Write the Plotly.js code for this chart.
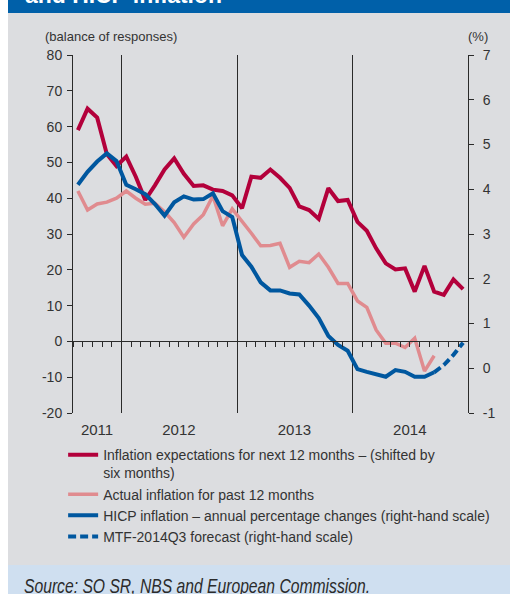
<!DOCTYPE html>
<html>
<head>
<meta charset="utf-8">
<script src="https://cdn.plot.ly/plotly-3.0.1.min.js"></script>
<style>
html,body{margin:0;padding:0;background:#ffffff;}
#wrap{position:relative;width:510px;height:594px;overflow:hidden;}
#chart{position:absolute;left:0;top:0;width:510px;height:594px;}
#ov{position:absolute;left:0;top:0;pointer-events:none;}
</style>
</head>
<body>
<div id="wrap">
<div id="chart"></div>
<svg id="ov" width="510" height="594">
  <rect x="0" y="0" width="8" height="594" fill="#ffffff"/>
  <rect x="8" y="0" width="502" height="13" fill="#0060a9"/>
  <text x="25" y="3" font-family="Liberation Sans, Arial, sans-serif" font-weight="bold" font-size="23" fill="#ffffff" textLength="197" lengthAdjust="spacingAndGlyphs">and HICP inflation</text>
  <rect x="8" y="565" width="502" height="29" fill="#cfdff0"/>
  <text x="24" y="593" font-family="Liberation Sans Narrow, Liberation Sans, sans-serif" font-style="italic" font-size="21" fill="#2b2b2b" textLength="346" lengthAdjust="spacingAndGlyphs">Source: SO SR, NBS and European Commission.</text>
</svg>
</div>
<script>
// Months (Aug 2011 – Dec 2014)
const months = [
  '2011-08','2011-09','2011-10','2011-11','2011-12',
  '2012-01','2012-02','2012-03','2012-04','2012-05','2012-06','2012-07','2012-08','2012-09','2012-10','2012-11','2012-12',
  '2013-01','2013-02','2013-03','2013-04','2013-05','2013-06','2013-07','2013-08','2013-09','2013-10','2013-11','2013-12',
  '2014-01','2014-02','2014-03','2014-04','2014-05','2014-06','2014-07','2014-08','2014-09','2014-10','2014-11','2014-12'
];
// Inflation expectations for next 12 months (shifted by six months), balance of responses
const expectations = [
  59, 65, 62.5, 52.3, 49, 51.6, 46, 39.5, 43.6, 48, 51.1, 46.8,
  43.4, 43.6, 42.4, 42, 40.8, 37.2, 46, 45.7, 48, 45.7, 42.9, 37.7,
  36.7, 34.2, 42.8, 39.2, 39.5, 33.4, 30.9, 26, 21.8, 20.1, 20.4, 13.9,
  21.1, 13.9, 13, 17.3, 14.6
];
// Actual inflation for past 12 months, balance of responses
const actual = [
  42, 36.7, 38.4, 38.9, 40, 42, 40, 38.3, 38.6, 36.2, 33.2, 29.1,
  32.8, 35.4, 40.6, 32.3, 37, 33.6, 30.2, 26.7, 26.8, 27.4, 20.7, 22.4,
  22, 24.4, 20.7, 16.2, 16.2, 11.3, 9.5, 3.2, -0.5, -0.5, -1.7, 0.9,
  -8.3, -4
];
// HICP inflation, annual % change (right-hand scale)
const hicp = [
  4.1, 4.39, 4.62, 4.8, 4.63, 4.1, 4.0, 3.89, 3.67, 3.41, 3.71, 3.84,
  3.77, 3.78, 3.91, 3.51, 3.38, 2.53, 2.27, 1.92, 1.74, 1.74, 1.67, 1.65,
  1.4, 1.12, 0.72, 0.52, 0.39, -0.02, -0.08, -0.13, -0.19, -0.04, -0.08, -0.19,
  -0.19, -0.09
];
// MTF-2014Q3 forecast (right-hand scale)
const forecastMonths = ['2014-09','2014-10','2014-11','2014-12'];
const forecast = [-0.09, 0.07, 0.3, 0.57];

const yearTickVals = ['2011-10-16','2012-07-01','2013-07-01','2014-07-01'];
const yearTickText = ['2011','2012','2013','2014'];
const yearBounds = ['2012-01-01','2013-01-01','2014-01-01'];
const leftTickVals = [-20,-10,0,10,20,30,40,50,60,70,80];
const leftTickText = ['-20','-10','0','10','20','30','40','50','60','70','80'];
const rightTickVals = [-1,0,1,2,3,4,5,6,7];
const rightTickText = ['-1','0','1','2','3','4','5','6','7'];

const NARROW = 'Liberation Sans Narrow, Liberation Sans, Arial, sans-serif';
const REG = 'Liberation Sans, Arial, sans-serif';
const TXT = '#333333';
const AX = '#2a2a2a';

const common = {type:'scatter', mode:'lines', xperiod:'M1', xperiodalignment:'middle', hoverinfo:'skip'};

const traces = [
  Object.assign({}, common, {
    x: months.slice(0, expectations.length), y: expectations,
    name: 'Inflation expectations for next 12 months – (shifted by<br>six months)',
    line: {color:'#b3003b', width:4}
  }),
  Object.assign({}, common, {
    x: months.slice(0, actual.length), y: actual,
    name: 'Actual inflation for past 12 months',
    line: {color:'#e08b8f', width:3.5}
  }),
  Object.assign({}, common, {
    x: months.slice(0, hicp.length), y: hicp, yaxis:'y2',
    name: 'HICP inflation – annual percentage changes (right-hand scale)',
    line: {color:'#00579f', width:4}
  }),
  Object.assign({}, common, {
    x: forecastMonths, y: forecast, yaxis:'y2',
    name: 'MTF-2014Q3 forecast (right-hand scale)',
    line: {color:'#00579f', width:4, dash:'8px,4px'}
  }),
  {type:'scatter', x:[], y:[], xaxis:'x2', yaxis:'y', showlegend:false, hoverinfo:'skip'}
];

const xr = ['2011-08-01','2015-01-01'];

const layout = {
  width:510, height:594,
  margin:{l:73, r:42, t:55, b:181},
  paper_bgcolor:'#dcdde0', plot_bgcolor:'rgba(0,0,0,0)',
  showlegend:true,
  font:{family:NARROW, size:14, color:TXT},
  xaxis:{
    type:'date', range:xr, showline:false, zeroline:false, showgrid:false,
    ticks:'', tickmode:'array', tickvals:yearTickVals, ticktext:yearTickText,
    tickfont:{family:NARROW, size:15, color:TXT}, ticklabelstandoff:6,
    minor:{tickmode:'array', tickvals:yearBounds, showgrid:true, gridcolor:AX, gridwidth:1, ticks:''}
  },
  xaxis2:{
    type:'date', range:xr, overlaying:'x', anchor:'free', position:0.2,
    showline:true, linecolor:AX, linewidth:1, zeroline:false, showgrid:false,
    ticks:'outside', ticklen:5, tickcolor:AX, tickwidth:1,
    tick0:'2011-08-01', dtick:'M1', showticklabels:false
  },
  yaxis:{
    range:[-20,80], tickmode:'array', tickvals:leftTickVals, ticktext:leftTickText,
    showline:true, linecolor:AX, linewidth:1,
    ticks:'outside', ticklen:5, tickcolor:AX, showgrid:false, zeroline:false,
    tickfont:{family:REG, size:14, color:TXT}, ticklabelstandoff:2
  },
  yaxis2:{
    range:[-1,7], tickmode:'array', tickvals:rightTickVals, ticktext:rightTickText,
    overlaying:'y', side:'right', anchor:'x',
    showline:true, linecolor:AX, linewidth:1,
    ticks:'outside', ticklen:5, tickcolor:AX, showgrid:false, zeroline:false,
    tickfont:{family:REG, size:14, color:TXT}, ticklabelstandoff:6
  },
  legend:{
    x:-0.025, xanchor:'left', y:-0.073, yanchor:'top', valign:'top',
    bgcolor:'rgba(0,0,0,0)', font:{family:NARROW, size:14, color:TXT},
    tracegroupgap:0
  },
  annotations:[
    {xref:'paper', yref:'paper', x:-0.076, y:1.053, xanchor:'left', yanchor:'middle',
     text:'(balance of responses)', showarrow:false, font:{family:NARROW, size:13, color:TXT}},
    {xref:'paper', yref:'paper', x:1.056, y:1.053, xanchor:'right', yanchor:'middle',
     text:'(%)', showarrow:false, font:{family:NARROW, size:13, color:TXT}}
  ]
};

Plotly.newPlot('chart', traces, layout, {displayModeBar:false, staticPlot:true});
</script>
</body>
</html>
